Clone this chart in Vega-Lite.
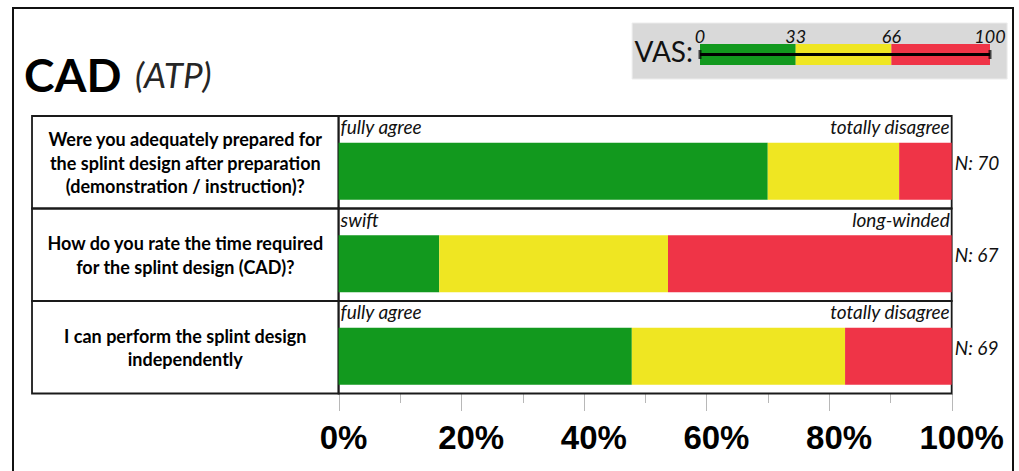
{
  "$schema": "https://vega.github.io/schema/vega-lite/v6.json",
  "width": 1000,
  "height": 465,
  "autosize": {"type": "none"},
  "padding": {"left": 13, "top": 8, "right": 6, "bottom": -2},
  "background": "white",
  "config": {"view": {"stroke": "#111111", "strokeWidth": 2}, "font": "Lato"},
  "datasets": {
    "header": [{"title": "CAD", "sub": "(ATP)", "legendTitle": "VAS:"}],
    "questions": [
      {"q": "Q1", "text": "Were you adequately prepared for\nthe splint design after preparation\n(demonstration / instruction)?", "low": "fully agree", "high": "totally disagree", "nLabel": "N: 70"},
      {"q": "Q2", "text": "How do you rate the time required\nfor the splint design (CAD)?", "low": "swift", "high": "long-winded", "nLabel": "N: 67"},
      {"q": "Q3", "text": "I can perform the splint design\nindependently", "low": "fully agree", "high": "totally disagree", "nLabel": "N: 69"}
    ],
    "bars": [
      {"q": "Q1", "level": "low", "rank": 1, "pct": 70.0},
      {"q": "Q1", "level": "mid", "rank": 2, "pct": 21.43},
      {"q": "Q1", "level": "high", "rank": 3, "pct": 8.57},
      {"q": "Q2", "level": "low", "rank": 1, "pct": 16.42},
      {"q": "Q2", "level": "mid", "rank": 2, "pct": 37.31},
      {"q": "Q2", "level": "high", "rank": 3, "pct": 46.27},
      {"q": "Q3", "level": "low", "rank": 1, "pct": 47.83},
      {"q": "Q3", "level": "mid", "rank": 2, "pct": 34.78},
      {"q": "Q3", "level": "high", "rank": 3, "pct": 17.39}
    ],
    "vas": [
      {"level": "low", "from": 0, "to": 33},
      {"level": "mid", "from": 33, "to": 66},
      {"level": "high", "from": 66, "to": 100}
    ],
    "vasTicks": [{"v": 0}, {"v": 33}, {"v": 66}, {"v": 100}]
  },
  "layer": [
    {
      "layer": [
        {
          "data": {"name": "questions"},
          "mark": {"type": "rect", "filled": false, "color": "#1a1a1a", "strokeWidth": 1.8},
          "encoding": {
            "x": {"datum": -50, "type": "quantitative",
                  "axis": {
                    "orient": "bottom", "values": [0], "offset": -79.5, "domain": false, "grid": false, "title": null,
                    "ticks": false, "tickSize": 0, "labelExpr": "datum.value + '%'", "labelOffset": 4.5,
                    "labelFont": "Liberation Sans", "labelFontWeight": "bold", "labelFontSize": 33,
                    "labelBaseline": "alphabetic", "labelColor": "#000000", "labelPadding": 55,
                    "labelOverlap": false, "labelFlush": false, "labelBound": false
                  }},
            "x2": {"datum": 0},
            "y": {"field": "q", "type": "nominal", "axis": null,
                  "scale": {"domain": ["header", "Q1", "Q2", "Q3"], "paddingInner": 0, "paddingOuter": 0.5135, "align": 0.1632}}
          }
        },
        {
          "data": {"name": "questions"},
          "mark": {"type": "rect", "filled": false, "color": "#1a1a1a", "strokeWidth": 1.8},
          "encoding": {
            "x": {"datum": 0, "type": "quantitative",
                  "axis": {
                    "orient": "bottom", "values": [10, 30, 50, 70, 90],
                    "offset": -79.5, "domain": false, "grid": false, "title": null, "labels": false,
                    "tickColor": "#b8b8b8", "tickWidth": 1, "tickSize": 9
                  }},
            "x2": {"datum": 100},
            "y": {"field": "q", "type": "nominal", "axis": null}
          }
        },
        {
          "data": {"name": "bars"},
          "mark": {"type": "bar", "height": 57, "yOffset": 9},
          "encoding": {
            "x": {"field": "pct", "type": "quantitative", "stack": "zero",
                  "scale": {"domain": [-53.1, 110], "nice": false, "zero": false},
                  "axis": {
                    "orient": "bottom", "values": [0, 20, 40, 60, 80, 100],
                    "offset": -79.5, "domain": false, "grid": false, "title": null, "labels": false,
                    "tickColor": "#b8b8b8", "tickWidth": 1, "tickSize": 17
                  }},
            "y": {"field": "q", "type": "nominal", "axis": null},
            "color": {"field": "level", "type": "nominal",
                      "scale": {"domain": ["low", "mid", "high"], "range": ["#12991e", "#efe622", "#ef3447"]},
                      "legend": null},
            "order": {"field": "rank"}
          }
        },
        {
          "data": {"name": "questions"},
          "transform": [{"filter": "split(datum.text, '\\n').length === 3"}],
          "mark": {"type": "text", "align": "center", "baseline": "middle", "lineBreak": "\n", "lineHeight": 23.5, "dy": -21, "fontSize": 18, "fontWeight": "bold", "color": "#000000"},
          "encoding": {
            "x": {"datum": -25, "type": "quantitative", "axis": null},
            "y": {"field": "q", "type": "nominal", "axis": null},
            "text": {"field": "text"}
          }
        },
        {
          "data": {"name": "questions"},
          "transform": [{"filter": "split(datum.text, '\\n').length === 2"}],
          "mark": {"type": "text", "align": "center", "baseline": "middle", "lineBreak": "\n", "lineHeight": 23.5, "dy": -9.5, "fontSize": 18, "fontWeight": "bold", "color": "#000000"},
          "encoding": {
            "x": {"datum": -25, "type": "quantitative", "axis": null},
            "y": {"field": "q", "type": "nominal", "axis": null},
            "text": {"field": "text"}
          }
        },
        {
          "data": {"name": "questions"},
          "mark": {"type": "text", "align": "left", "baseline": "alphabetic", "dx": 2, "dy": -28, "fontSize": 19, "fontStyle": "italic", "color": "#111111"},
          "encoding": {
            "x": {"datum": 0, "type": "quantitative",
                  "axis": {
                    "orient": "bottom", "values": [20, 40, 60, 80, 100], "offset": -79.5, "domain": false, "grid": false, "title": null,
                    "ticks": false, "tickSize": 0, "labelExpr": "datum.value + '%'", "labelOffset": 9.5,
                    "labelFont": "Liberation Sans", "labelFontWeight": "bold", "labelFontSize": 33,
                    "labelBaseline": "alphabetic", "labelColor": "#000000", "labelPadding": 55,
                    "labelOverlap": false, "labelFlush": false, "labelBound": false
                  }},
            "y": {"field": "q", "type": "nominal", "axis": null},
            "text": {"field": "low"}
          }
        },
        {
          "data": {"name": "questions"},
          "mark": {"type": "text", "align": "right", "baseline": "alphabetic", "dx": -2, "dy": -28, "fontSize": 19, "fontStyle": "italic", "color": "#111111"},
          "encoding": {
            "x": {"datum": 100, "type": "quantitative", "axis": null},
            "y": {"field": "q", "type": "nominal", "axis": null},
            "text": {"field": "high"}
          }
        },
        {
          "data": {"name": "questions"},
          "mark": {"type": "text", "align": "left", "baseline": "alphabetic", "dx": 3, "dy": 7.5, "fontSize": 19, "fontStyle": "italic", "color": "#111111"},
          "encoding": {
            "x": {"datum": 100, "type": "quantitative", "axis": null},
            "y": {"field": "q", "type": "nominal", "axis": null},
            "text": {"field": "nLabel"}
          }
        },
        {
          "data": {"name": "header"},
          "mark": {"type": "text", "align": "left", "baseline": "alphabetic", "dy": 22, "fontSize": 46, "fontWeight": "bold", "color": "#000000"},
          "encoding": {
            "x": {"datum": -51.3, "type": "quantitative", "axis": null},
            "y": {"datum": "header", "type": "nominal", "axis": null},
            "text": {"field": "title"}
          }
        },
        {
          "data": {"name": "header"},
          "mark": {"type": "text", "align": "left", "baseline": "alphabetic", "dy": 18, "fontSize": 35, "fontStyle": "italic", "color": "#262626"},
          "encoding": {
            "x": {"datum": -33.2, "type": "quantitative", "axis": null},
            "y": {"datum": "header", "type": "nominal", "axis": null},
            "text": {"field": "sub"}
          }
        }
      ],
      "resolve": {"axis": {"x": "independent"}}
    },
    {
      "layer": [
        {
          "data": {"name": "header"},
          "mark": {"type": "bar", "height": 56, "yOffset": -18.75, "color": "#d9d9d9", "stroke": "#ececec", "strokeWidth": 1},
          "encoding": {
            "x": {"datum": -23.4, "type": "quantitative", "axis": null,
                  "scale": {"domain": [0, 100], "range": [687, 977], "nice": false, "zero": false}},
            "x2": {"datum": 105.9},
            "y": {"datum": "header", "type": "nominal", "axis": null}
          }
        },
        {
          "data": {"name": "header"},
          "mark": {"type": "text", "align": "right", "baseline": "alphabetic", "dy": -8, "fontSize": 28, "color": "#111111"},
          "encoding": {
            "x": {"datum": -2.4, "type": "quantitative", "axis": null},
            "y": {"datum": "header", "type": "nominal", "axis": null},
            "text": {"field": "legendTitle"}
          }
        },
        {
          "data": {"name": "vas"},
          "mark": {"type": "bar", "height": 21, "yOffset": -15.25},
          "encoding": {
            "x": {"field": "from", "type": "quantitative", "axis": null},
            "x2": {"field": "to"},
            "y": {"datum": "header", "type": "nominal", "axis": null},
            "color": {"field": "level", "type": "nominal", "legend": null}
          }
        },
        {
          "data": {"name": "header"},
          "mark": {"type": "rule", "strokeWidth": 3, "color": "#000000", "yOffset": -15.25},
          "encoding": {
            "x": {"datum": 0, "type": "quantitative", "axis": null},
            "x2": {"datum": 100},
            "y": {"datum": "header", "type": "nominal", "axis": null}
          }
        },
        {
          "data": {"name": "vasTicks"},
          "transform": [{"filter": "datum.v === 0 || datum.v === 100"}],
          "mark": {"type": "tick", "orient": "vertical", "size": 9, "thickness": 3, "color": "#000000", "yOffset": -15.25},
          "encoding": {
            "x": {"field": "v", "type": "quantitative", "axis": null},
            "y": {"datum": "header", "type": "nominal", "axis": null}
          }
        },
        {
          "data": {"name": "vasTicks"},
          "mark": {"type": "text", "align": "center", "baseline": "alphabetic", "dy": -26.75, "fontSize": 18, "fontStyle": "italic", "color": "#111111"},
          "encoding": {
            "x": {"field": "v", "type": "quantitative", "axis": null},
            "y": {"datum": "header", "type": "nominal", "axis": null},
            "text": {"field": "v"}
          }
        }
      ]
    }
  ],
  "resolve": {"scale": {"x": "independent"}}
}
